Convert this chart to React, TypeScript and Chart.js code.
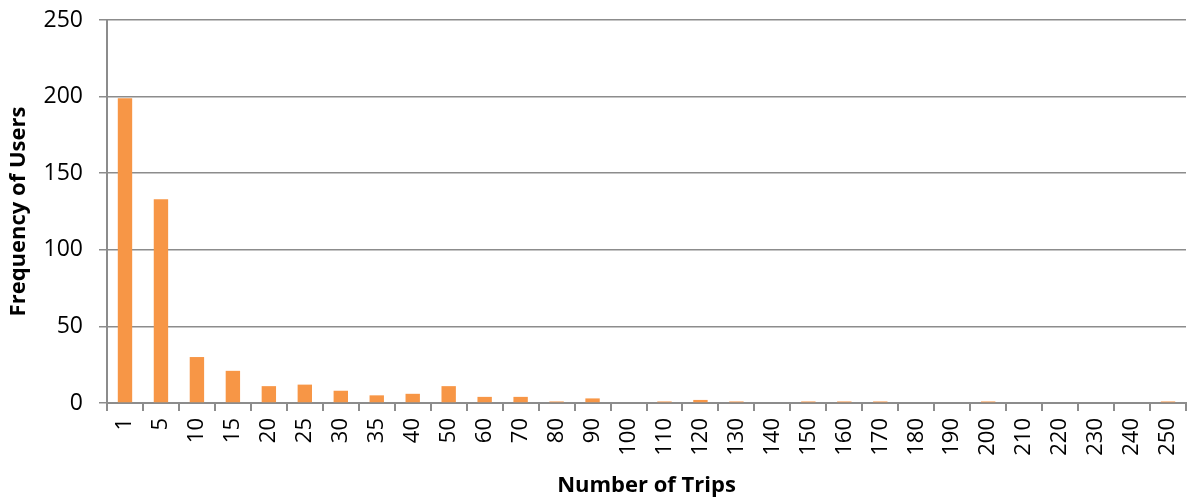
import React, { useEffect, useRef } from "react";
import { Chart, registerables } from "chart.js";

Chart.register(...registerables);

const tripCategories = [
  "1", "5", "10", "15", "20", "25", "30", "35", "40", "50",
  "60", "70", "80", "90", "100", "110", "120", "130", "140", "150",
  "160", "170", "180", "190", "200", "210", "220", "230", "240", "250",
];

const userFrequency = [
  199, 133, 30, 21, 11, 12, 8, 5, 6, 11,
  4, 4, 1, 3, 0, 1, 2, 1, 0, 1,
  1, 1, 0, 0, 1, 0, 0, 0, 0, 1,
];

const yTicks = [0, 50, 100, 150, 200, 250];

const FONT = "'Open Sans', Lato, sans-serif";
const GRID = "#8c8c8c";

export default function App() {
  const canvasRef = useRef<HTMLCanvasElement | null>(null);

  useEffect(() => {
    document.body.style.margin = "0";
    const canvas = canvasRef.current;
    if (!canvas) return;
    const chart = new Chart(canvas, {
      type: "bar",
      data: {
        labels: tripCategories,
        datasets: [
          {
            data: userFrequency,
            backgroundColor: "#F79646",
            borderWidth: 0,
            categoryPercentage: 1,
            barPercentage: 0.4,
          },
        ],
      },
      options: {
        animation: false,
        responsive: false,
        maintainAspectRatio: false,
        layout: { padding: { top: 20, right: 2, left: 0, bottom: 0 } },
        plugins: {
          legend: { display: false },
          tooltip: { enabled: false },
        },
        scales: {
          x: {
            grid: {
              display: true,
              drawOnChartArea: false,
              drawTicks: true,
              tickLength: 8,
              color: GRID,
              lineWidth: 2,
              offset: true,
            },
            border: { display: true, color: GRID, width: 2 },
            ticks: {
              minRotation: 90,
              maxRotation: 90,
              autoSkip: false,
              color: "#000",
              font: { family: FONT, size: 22 },
              padding: 7,
            },
            title: {
              display: true,
              text: "Number of Trips",
              color: "#000",
              font: { family: FONT, size: 22, weight: "bold" },
              padding: { top: 0, bottom: 3 },
              align: "center",
            },
            afterFit: (scale: any) => {
              scale.height = 99;
              scale.paddingLeft = 0;
              scale.paddingRight = 0;
            },
          },
          y: {
            min: 0,
            max: 250,
            afterBuildTicks: (scale: any) => {
              scale.ticks = yTicks.map((v) => ({ value: v }));
            },
            grid: {
              color: GRID,
              lineWidth: 1.5,
              tickLength: 8,
              drawTicks: true,
            },
            border: { display: true, color: GRID, width: 2 },
            ticks: {
              color: "#000",
              font: { family: FONT, size: 23 },
              padding: 16,
            },
            title: {
              display: true,
              text: "Frequency of Users",
              color: "#000",
              font: { family: FONT, size: 22, weight: "bold" },
              padding: { top: 6, bottom: 0 },
            },
            afterFit: (scale: any) => {
              scale.width = 107;
              scale.paddingTop = 0;
              scale.paddingBottom = 0;
            },
          },
        },
      },
    });
    return () => chart.destroy();
  }, []);

  return (
    <div style={{ width: 1188, height: 502 }}>
      <canvas ref={canvasRef} width={1188} height={502} />
    </div>
  );
}
